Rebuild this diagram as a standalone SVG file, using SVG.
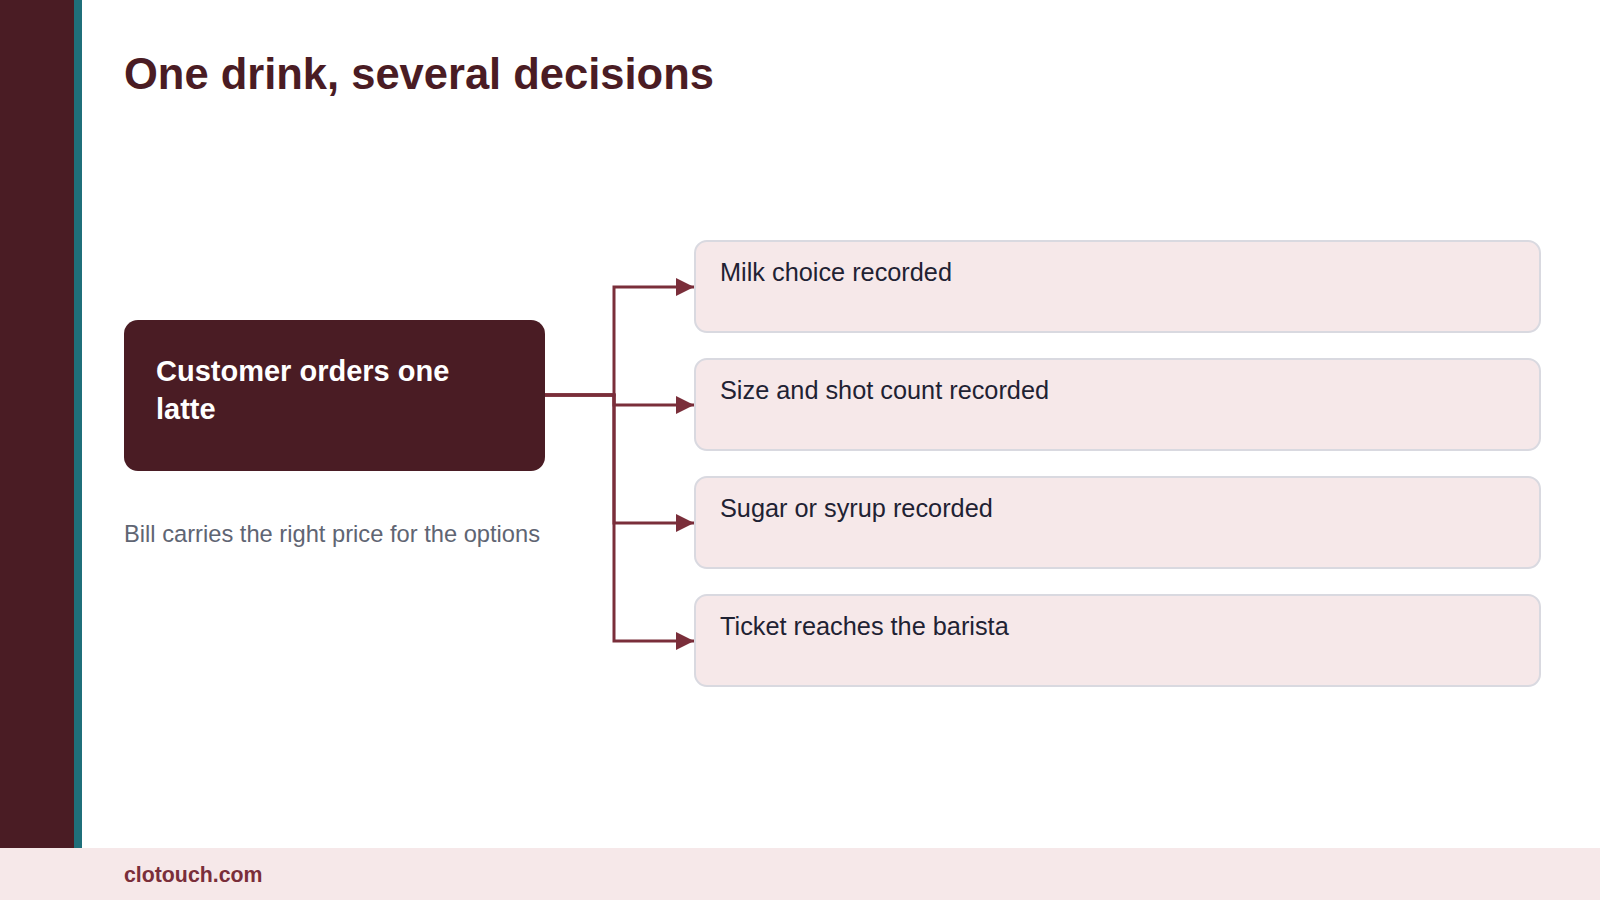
<svg xmlns="http://www.w3.org/2000/svg" width="1600" height="900" viewBox="0 0 1600 900">
<defs>
<style>
.title{font-family:"Liberation Sans",Arial,sans-serif;font-weight:700;font-size:43.5px;fill:#4a1c24}
.main{fill:#4a1c24}
.mainText{font-family:"Liberation Sans",Arial,sans-serif;font-weight:700;font-size:29px;fill:#ffffff}
.sub{font-family:"Liberation Sans",Arial,sans-serif;font-size:23.7px;fill:#5f6573}
.box{fill:#f6e8e9;stroke:#d9d9e0;stroke-width:2}
.boxText{font-family:"Liberation Sans",Arial,sans-serif;font-size:25.3px;fill:#1f2233}
.conn{fill:none;stroke:#7a2e3a;stroke-width:3}
.foot{font-family:"Liberation Sans",Arial,sans-serif;font-weight:700;font-size:21.3px;fill:#7a2e3a}
</style>
<marker id="arrow" viewBox="0 0 10 10" refX="10" refY="5" markerWidth="6" markerHeight="6" markerUnits="strokeWidth" orient="auto">
<path d="M0,0 L10,5 L0,10 Z" fill="#7a2e3a"/>
</marker>
</defs>
<rect x="0" y="0" width="1600" height="900" fill="#ffffff"/>
<rect x="0" y="0" width="74" height="848" fill="#4a1c24"/>
<rect x="74" y="0" width="8" height="848" fill="#1f6f7a"/>
<rect x="0" y="848" width="1600" height="52" fill="#f6e8e9"/>
<text class="title" x="124" y="89">One drink, several decisions</text>
<g id="connectors">
<path class="conn" d="M545,395 H614 V287 H694" marker-end="url(#arrow)"/>
<path class="conn" d="M545,395 H614 V405 H694" marker-end="url(#arrow)"/>
<path class="conn" d="M545,395 H614 V523 H694" marker-end="url(#arrow)"/>
<path class="conn" d="M545,395 H614 V641 H694" marker-end="url(#arrow)"/>
</g>
<g id="node-main">
<rect class="main" x="124" y="320" width="421" height="151" rx="14"/>
<text class="mainText" x="156" y="381">Customer orders one</text>
<text class="mainText" x="156" y="419">latte</text>
</g>
<g id="note">
<text class="sub" x="124" y="542">Bill carries the right price for the options</text>
</g>
<g id="node-milk">
<rect class="box" x="695" y="241" width="845" height="91" rx="12"/>
<text class="boxText" x="720" y="281">Milk choice recorded</text>
</g>
<g id="node-size">
<rect class="box" x="695" y="359" width="845" height="91" rx="12"/>
<text class="boxText" x="720" y="399">Size and shot count recorded</text>
</g>
<g id="node-sugar">
<rect class="box" x="695" y="477" width="845" height="91" rx="12"/>
<text class="boxText" x="720" y="517">Sugar or syrup recorded</text>
</g>
<g id="node-ticket">
<rect class="box" x="695" y="595" width="845" height="91" rx="12"/>
<text class="boxText" x="720" y="635">Ticket reaches the barista</text>
</g>
<text class="foot" x="124" y="882">clotouch.com</text>
</svg>
